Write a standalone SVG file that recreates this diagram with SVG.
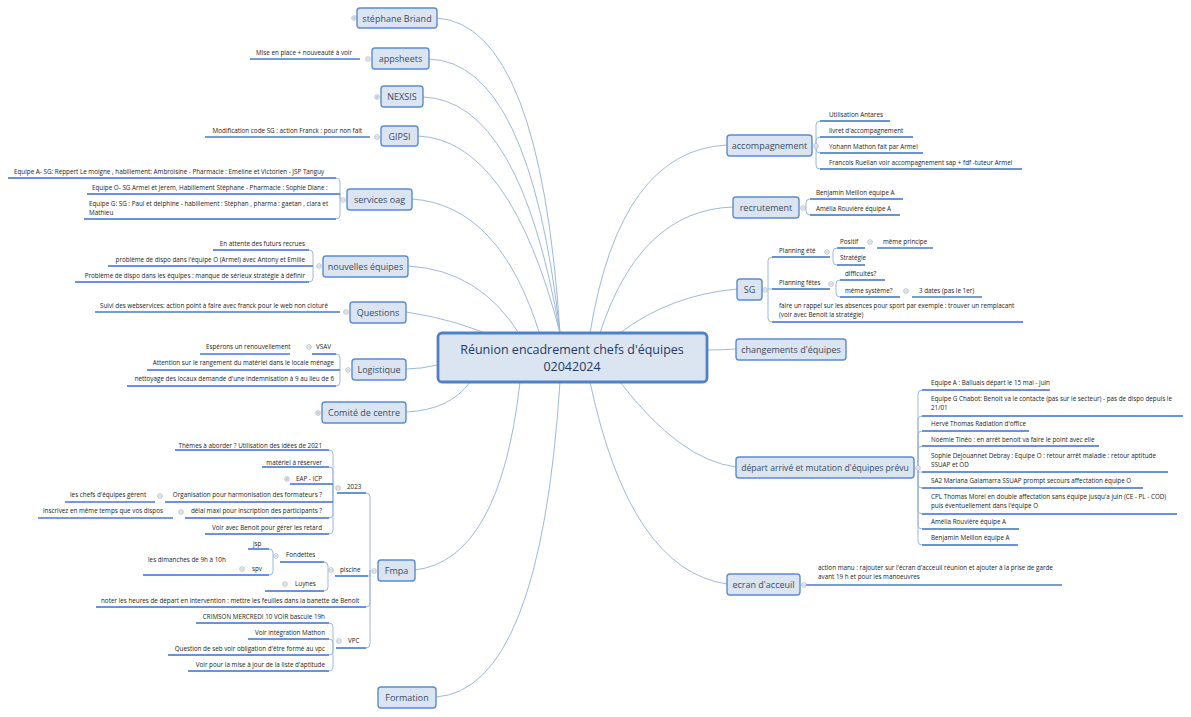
<svg xmlns="http://www.w3.org/2000/svg" width="1191" height="717" viewBox="0 0 1191 717">
<style>
.n rect{fill:#dbe5f1;stroke:#5b8bd0;stroke-width:1.4}
.n text{font-family:"Open Sans","Liberation Sans",sans-serif;font-size:9px;fill:#3b4a5e;text-anchor:middle}
.t{font-family:"Open Sans","Liberation Sans",sans-serif;font-size:6.3px;fill:#222}
.r{text-anchor:end}
.c path{fill:none;stroke:#9db8dd;stroke-width:1}
.u path{fill:none;stroke:#4a7ccc;stroke-width:1.3}
.b path{fill:none;stroke:#9db8dd;stroke-width:1}
.k circle{fill:#fff;stroke:#9aa6b8;stroke-width:0.7}
.k path{stroke:#9aa6b8;stroke-width:0.7}
</style>
<rect width="1191" height="717" fill="#fff"/>
<g id="connectors" class="c">
<path d="M560 333 Q540 25 437 18"/>
<path d="M560 333 Q530 62 429 59"/>
<path d="M560 333 Q520 100 423 97"/>
<path d="M560 333 Q510 140 418 136"/>
<path d="M540 335 Q500 205 412 199"/>
<path d="M520 335 Q480 270 408 266"/>
<path d="M500 340 Q460 320 406 312"/>
<path d="M438 365 Q420 369 406 369"/>
<path d="M470 382 Q450 410 406 412"/>
<path d="M520 382 Q500 560 415 570"/>
<path d="M560 382 Q540 690 436 697"/>
<path d="M590 333 Q620 150 727 145"/>
<path d="M600 333 Q640 210 733 207"/>
<path d="M620 333 Q670 295 737 289"/>
<path d="M707 350 Q720 350 736 349"/>
<path d="M620 382 Q680 460 736 467"/>
<path d="M590 382 Q630 570 727 584"/>
</g>
<g id="branches" class="b">
<path d="M340 199 V182 Q340 178 336 178 H8"/>
<path d="M340 199 V194 H87"/>
<path d="M340 199 V215 Q340 219 336 219 H84"/>
<path d="M313 266 V254 Q313 250 309 250 H213"/>
<path d="M313 266 H108"/>
<path d="M313 266 V278 Q313 282 309 282 H75"/>
<path d="M340 370 V358 Q340 354 336 354 H312"/>
<path d="M340 370 H147"/>
<path d="M340 370 V382 Q340 386 336 386 H127"/>
<path d="M370 570 V497 Q370 493 366 493 H337"/>
<path d="M370 570 V576 H335"/>
<path d="M370 570 V603 Q370 607 366 607 H96"/>
<path d="M370 570 V644 Q370 648 366 648 H336"/>
<path d="M333 493 V454 Q333 450 329 450 H175"/>
<path d="M333 493 V471 Q333 467 329 467 H262"/>
<path d="M333 493 V484 H290"/>
<path d="M333 493 V502 H165"/>
<path d="M333 493 V514 Q333 518 329 518 H185"/>
<path d="M333 493 V530 Q333 534 329 534 H205"/>
<path d="M328 576 V566 Q328 562 324 562 H280"/>
<path d="M328 576 V587 Q328 591 324 591 H265"/>
<path d="M273 562 V553 Q273 549 269 549 H248"/>
<path d="M273 562 V571 Q273 575 269 575 H143"/>
<path d="M333 648 V627 Q333 623 329 623 H196"/>
<path d="M333 648 V643 Q333 639 329 639 H248"/>
<path d="M333 648 V651 Q333 655 329 655 H168"/>
<path d="M333 648 V667 Q333 671 329 671 H188"/>
<path d="M816 145 V125 Q816 121 820 121 H890"/>
<path d="M816 145 V141 Q816 137 820 137 H913"/>
<path d="M816 145 V149 Q816 153 820 153 H923"/>
<path d="M816 145 V165 Q816 169 820 169 H1022"/>
<path d="M806 207 V203 Q806 199 810 199 H903"/>
<path d="M806 207 V211 Q806 215 810 215 H900"/>
<path d="M768 289 V261 Q768 257 772 257 H830"/>
<path d="M768 289 H830"/>
<path d="M768 289 V318 Q768 322 772 322 H1023"/>
<path d="M833 257 V252 Q833 248 837 248 H865"/>
<path d="M833 257 V261 Q833 265 837 265 H865"/>
<path d="M836 289 V284 Q836 280 840 280 H885"/>
<path d="M836 289 V293 Q836 297 840 297 H900"/>
<path d="M918 467 V394 Q918 390 922 390 H1050"/>
<path d="M918 467 V420 Q918 416 922 416 H1183"/>
<path d="M918 467 V435 Q918 431 922 431 H1029"/>
<path d="M918 467 V450 Q918 446 922 446 H1099"/>
<path d="M918 467 V472 H1168"/>
<path d="M918 467 V484 Q918 488 922 488 H1143"/>
<path d="M918 467 V510 Q918 514 922 514 H1177"/>
<path d="M918 467 V525 Q918 529 922 529 H1019"/>
<path d="M918 467 V541 Q918 545 922 545 H1018"/>
</g>
<g class="u">
<path d="M8 178 H336 M87 194 H340 M84 219 H336 M213 250 H309 M108 266 H313 M75 282 H309 M95 312 H340 M200 354 H290 M312 354 H336 M147 370 H340 M127 386 H336 M250 59 H360 M205 137 H370"/>
<path d="M337 493 H366 M335 576 H368 M96 607 H366 M336 648 H366 M175 450 H329 M262 467 H329 M290 484 H333 M165 502 H333 M65 502 H155 M185 518 H329 M38 518 H173 M205 534 H329 M280 562 H324 M265 591 H324 M248 549 H269 M232 575 H269 M143 575 H232 M196 623 H329 M248 639 H329 M168 655 H329 M188 671 H329"/>
<path d="M820 121 H890 M820 137 H913 M820 153 H923 M820 169 H1022 M810 199 H903 M810 215 H900 M772 257 H830 M772 289 H830 M772 322 H1023 M837 248 H865 M877 248 H933 M837 265 H865 M840 280 H885 M840 297 H900 M912 297 H982"/>
<path d="M922 390 H1050 M922 416 H1183 M922 431 H1029 M922 446 H1099 M922 472 H1168 M922 488 H1143 M922 514 H1177 M922 529 H1019 M922 545 H1018 M805 585 H1062"/>
</g>
<g class="k">
<circle cx="354" cy="18" r="2.3"/><path d="M352.5 18 H355.5 M354 16.5 V19.5"/>
<circle cx="368" cy="59" r="2.3"/><path d="M366.5 59 H369.5"/>
<circle cx="377" cy="97" r="2.3"/><path d="M375.5 97 H378.5 M377 95.5 V98.5"/>
<circle cx="377" cy="137" r="2.3"/><path d="M375.5 137 H378.5"/>
<circle cx="343" cy="200" r="2.3"/><path d="M341.5 200 H344.5"/>
<circle cx="319" cy="266" r="2.3"/><path d="M317.5 266 H320.5"/>
<circle cx="346" cy="312" r="2.3"/><path d="M344.5 312 H347.5"/>
<circle cx="348" cy="370" r="2.3"/><path d="M346.5 370 H349.5"/>
<circle cx="309" cy="347" r="2.3"/><path d="M307.5 347 H310.5"/>
<circle cx="318" cy="413" r="2.3"/><path d="M316.5 413 H319.5 M318 411.5 V414.5"/>
<circle cx="374" cy="571" r="2.3"/><path d="M372.5 571 H375.5"/>
<circle cx="338" cy="488" r="2.3"/><path d="M336.5 488 H339.5"/>
<circle cx="287" cy="479" r="2.3"/><path d="M285.5 479 H288.5 M287 477.5 V480.5"/>
<circle cx="160" cy="496" r="2.3"/><path d="M158.5 496 H161.5"/>
<circle cx="181" cy="512" r="2.3"/><path d="M179.5 512 H182.5"/>
<circle cx="331" cy="570" r="2.3"/><path d="M329.5 570 H332.5"/>
<circle cx="276" cy="556" r="2.3"/><path d="M274.5 556 H277.5"/>
<circle cx="242" cy="569" r="2.3"/><path d="M240.5 569 H243.5"/>
<circle cx="285" cy="584" r="2.3"/><path d="M283.5 584 H286.5"/>
<circle cx="339" cy="641" r="2.3"/><path d="M337.5 641 H340.5"/>
<circle cx="816" cy="146" r="2.3"/><path d="M814.5 146 H817.5"/>
<circle cx="803" cy="208" r="2.3"/><path d="M801.5 208 H804.5"/>
<circle cx="765" cy="290" r="2.3"/><path d="M763.5 290 H766.5"/>
<circle cx="827" cy="252" r="2.3"/><path d="M825.5 252 H828.5"/>
<circle cx="831" cy="284" r="2.3"/><path d="M829.5 284 H832.5"/>
<circle cx="870" cy="242" r="2.3"/><path d="M868.5 242 H871.5"/>
<circle cx="906" cy="291" r="2.3"/><path d="M904.5 291 H907.5"/>
<circle cx="918" cy="468" r="2.3"/><path d="M916.5 468 H919.5"/>
<circle cx="804" cy="585" r="2.3"/><path d="M802.5 585 H805.5"/>
</g>
<g id="center" class="n"><rect x="438" y="333" width="269" height="49" rx="4" style="stroke-width:2.8;stroke:#4f81c9"/><text x="572" y="354" style="font-size:12.5px;fill:#1f3a68">Réunion encadrement chefs d'équipes</text><text x="572" y="371" style="font-size:12.5px;fill:#1f3a68">02042024</text></g>
<g id="n-stephane" class="n"><rect x="357" y="8" width="80" height="20" rx="3"/><text x="397" y="21.5">stéphane Briand</text></g>
<g id="n-appsheets" class="n"><rect x="372" y="48" width="57" height="21" rx="3"/><text x="400.5" y="62">appsheets</text></g>
<g id="n-nexsis" class="n"><rect x="381" y="86" width="42" height="21" rx="3"/><text x="402" y="100">NEXSIS</text></g>
<g id="n-gipsi" class="n"><rect x="381" y="126" width="37" height="20" rx="3"/><text x="399.5" y="139.5">GIPSI</text></g>
<g id="n-oag" class="n"><rect x="347" y="189" width="65" height="21" rx="3"/><text x="379.5" y="203">services oag</text></g>
<g id="n-nouv" class="n"><rect x="323" y="256" width="85" height="21" rx="3"/><text x="365.5" y="270">nouvelles équipes</text></g>
<g id="n-questions" class="n"><rect x="350" y="302" width="56" height="21" rx="3"/><text x="378" y="316">Questions</text></g>
<g id="n-logistique" class="n"><rect x="352" y="359" width="54" height="21" rx="3"/><text x="379" y="373">Logistique</text></g>
<g id="n-comite" class="n"><rect x="322" y="402" width="84" height="21" rx="3"/><text x="364" y="416">Comité de centre</text></g>
<g id="n-fmpa" class="n"><rect x="378" y="560" width="37" height="21" rx="3"/><text x="396.5" y="574">Fmpa</text></g>
<g id="n-formation" class="n"><rect x="378" y="687" width="58" height="21" rx="3"/><text x="407" y="701">Formation</text></g>
<g id="n-accomp" class="n"><rect x="727" y="135" width="85" height="21" rx="3"/><text x="769.5" y="149">accompagnement</text></g>
<g id="n-recrut" class="n"><rect x="733" y="197" width="66" height="21" rx="3"/><text x="766" y="211">recrutement</text></g>
<g id="n-sg" class="n"><rect x="737" y="279" width="25" height="21" rx="3"/><text x="749.5" y="293">SG</text></g>
<g id="n-changements" class="n"><rect x="736" y="339" width="110" height="21" rx="3"/><text x="791" y="353">changements d'équipes</text></g>
<g id="n-depart" class="n"><rect x="736" y="457" width="178" height="21" rx="3"/><text x="825" y="471" style="font-size:8.6px">départ arrivé et mutation d'équipes prévu</text></g>
<g id="n-ecran" class="n"><rect x="727" y="574" width="73" height="21" rx="3"/><text x="763.5" y="588">ecran d'acceuil</text></g>
<g id="texts">
<text class="t r" x="352" y="55">Mise en place + nouveauté à voir</text>
<text class="t r" x="362" y="133">Modification code SG : action Franck : pour non fait</text>
<text class="t" x="14" y="174">Equipe A- SG:  Reppert Le moigne , habillement: Ambroisine - Pharmacie : Emeline et Victorien - JSP Tanguy</text>
<text class="t" x="92" y="190">Equipe O- SG Armel et Jerem, Habillement Stéphane - Pharmacie : Sophie Diane :</text>
<text class="t" x="89" y="206">Equipe G: SG : Paul et delphine - habillement : Stéphan , pharma : gaetan , clara et</text>
<text class="t" x="89" y="215">Mathieu</text>
<text class="t r" x="305" y="246">En attente des futurs recrues</text>
<text class="t r" x="305" y="262">problème de dispo dans l'équipe O (Armel) avec Antony et Emilie</text>
<text class="t r" x="305" y="278">Problème de dispo dans les équipes : manque de sérieux  stratégie à définir</text>
<text class="t" x="100" y="308">Suivi des webservices: action point à faire avec  franck pour le web non cloturé</text>
<text class="t" x="206" y="349">Espérons un renouvellement</text>
<text class="t" x="316" y="349">VSAV</text>
<text class="t r" x="334" y="365">Attention sur le rangement du matériel dans le locale ménage</text>
<text class="t r" x="334" y="381">nettoyage des locaux demande d'une indemnisation à 9 au lieu de 6</text>
<text class="t r" x="322" y="448">Thèmes à aborder ? Utilisation des idées de 2021</text>
<text class="t r" x="322" y="465">matériel à réserver</text>
<text class="t r" x="322" y="481">EAP - ICP</text>
<text class="t r" x="322" y="497">Organisation pour harmonisation des formateurs ?</text>
<text class="t" x="70" y="497">les chefs d'équipes gèrent</text>
<text class="t r" x="322" y="513">délai maxi pour inscription des participants ?</text>
<text class="t" x="43" y="513">inscrivez en même temps que vos dispos</text>
<text class="t r" x="322" y="530">Voir avec Benoit pour gérer les retard</text>
<text class="t" x="347" y="489">2023</text>
<text class="t" x="340" y="572">piscine</text>
<text class="t" x="286" y="557">Fondettes</text>
<text class="t" x="295" y="586">Luynes</text>
<text class="t" x="253" y="546">jsp</text>
<text class="t" x="252" y="571">spv</text>
<text class="t" x="148" y="562">les dimanches de 9h à 10h</text>
<text class="t" x="101" y="603">noter les heures de départ en intervention : mettre les feuilles dans la banette de Benoit</text>
<text class="t" x="348" y="643">VPC</text>
<text class="t r" x="325" y="619">CRIMSON MERCREDI 10 VOIR bascule 19h</text>
<text class="t r" x="325" y="635">Voir intégration Mathon</text>
<text class="t r" x="325" y="651">Question de seb voir obligation d'être formé au vpc</text>
<text class="t r" x="325" y="667">Voir pour la mise à jour de la liste d'aptitude</text>
<text class="t" x="829" y="117">Utilisation Antares</text>
<text class="t" x="829" y="133">livret d'accompagnement</text>
<text class="t" x="829" y="149">Yohann Mathon  fait par Armel</text>
<text class="t" x="829" y="165">Francois Ruellan  voir accompagnement sap + fdf -tuteur Armel</text>
<text class="t" x="816" y="195">Benjamin Meillon  équipe A</text>
<text class="t" x="816" y="211">Amélia Rouvière équipe A</text>
<text class="t" x="779" y="253">Planning été</text>
<text class="t" x="840" y="244">Positif</text>
<text class="t" x="883" y="244">même principe</text>
<text class="t" x="840" y="260">Stratégie</text>
<text class="t" x="779" y="285">Planning fêtes</text>
<text class="t" x="845" y="276">difficultés?</text>
<text class="t" x="845" y="293">même système?</text>
<text class="t" x="919" y="293">3 dates (pas le 1er)</text>
<text class="t" x="779" y="308">faire un rappel sur les absences pour sport par exemple : trouver un remplacant</text>
<text class="t" x="779" y="317">(voir avec Benoit la stratégie)</text>
<text class="t" x="931" y="385">Equipe A : Balluais départ le 15 mai - juin</text>
<text class="t" x="931" y="401">Equipe G Chabot: Benoit va le contacte (pas sur le secteur) - pas de dispo depuis le</text>
<text class="t" x="931" y="410">21/01</text>
<text class="t" x="931" y="426">Hervé Thomas Radiation d'office</text>
<text class="t" x="931" y="442">Noémie Tinéo : en arrêt benoit va faire le point avec elle</text>
<text class="t" x="931" y="458">Sophie Dejouannet Debray  : Equipe O : retour arrêt maladie : retour aptitude</text>
<text class="t" x="931" y="467">SSUAP et OD</text>
<text class="t" x="931" y="483">SA2 Mariana Galamarra SSUAP prompt secours  affectation équipe  O</text>
<text class="t" x="931" y="499">CPL Thomas Morel en double affectation sans équipe jusqu'a juin (CE - PL - COD)</text>
<text class="t" x="931" y="508">puis éventuellement dans l'équipe O</text>
<text class="t" x="931" y="524">Amélia Rouvière équipe A</text>
<text class="t" x="931" y="540">Benjamin Meillon  équipe A</text>
<text class="t" x="818" y="570">action manu : rajouter sur l'écran d'acceuil réunion et  ajouter à la prise de garde</text>
<text class="t" x="818" y="579">avant 19 h et pour les manoeuvres</text>
</g>
</svg>
